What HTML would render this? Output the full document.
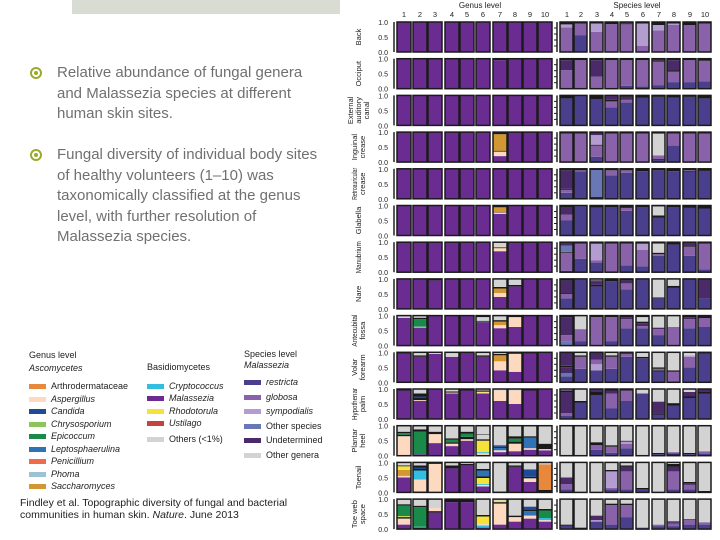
<!DOCTYPE html>
<html><head><meta charset="utf-8"><style>
body{margin:0;width:720px;height:540px;overflow:hidden;background:#fff;font-family:"Liberation Sans",sans-serif;position:relative}
.topbar{position:absolute;left:72px;top:0;width:268px;height:14px;background:#d9dcd3}
.bul{position:absolute;left:57px;font-size:15px;line-height:20.5px;color:#707070;width:270px}
.dot{position:absolute;left:-27px;top:4px;width:8px;height:8px;border:2px solid #9aab2c;border-radius:50%}
.dot:after{content:"";position:absolute;left:2px;top:2px;width:4px;height:4px;background:#9aab2c;border-radius:50%}
.leg{position:absolute;font-size:9px;color:#222;line-height:12.5px}
.leg .sw{display:inline-block;width:17px;height:5px;vertical-align:middle;margin-right:5px}
.cite{position:absolute;left:20px;top:497px;font-size:10.5px;color:#222;line-height:12px}
</style></head><body>
<div class="topbar"></div>
<div class="bul" style="top:63px"><span class="dot"></span>Relative abundance of fungal genera and Malassezia species at different human skin sites.</div>
<div class="bul" style="top:145px"><span class="dot"></span>Fungal diversity of individual body sites of healthy volunteers (1–10) was taxonomically classified at the genus level, with further resolution of Malassezia species.</div>

<div class="leg" style="left:29px;top:349px">
<div>Genus level</div><div style="font-style:italic;margin-bottom:6px">Ascomycetes</div>
<div><span class="sw" style="background:#e8883a"></span>Arthrodermataceae</div>
<div><span class="sw" style="background:#fdd9c0"></span><i>Aspergillus</i></div>
<div><span class="sw" style="background:#1e4a9a"></span><i>Candida</i></div>
<div><span class="sw" style="background:#8cc65a"></span><i>Chrysosporium</i></div>
<div><span class="sw" style="background:#1a8a4a"></span><i>Epicoccum</i></div>
<div><span class="sw" style="background:#2f72b5"></span><i>Leptosphaerulina</i></div>
<div><span class="sw" style="background:#ee6b4d"></span><i>Penicillium</i></div>
<div><span class="sw" style="background:#9cc2d8"></span><i>Phoma</i></div>
<div><span class="sw" style="background:#d29633"></span><i>Saccharomyces</i></div>
</div>
<div class="leg" style="left:147px;top:361px">
<div style="margin-bottom:6px">Basidiomycetes</div>
<div><span class="sw" style="background:#33bde0"></span><i>Cryptococcus</i></div>
<div><span class="sw" style="background:#6a2c91"></span><i>Malassezia</i></div>
<div><span class="sw" style="background:#f5e33a"></span><i>Rhodotorula</i></div>
<div><span class="sw" style="background:#c0453f"></span><i>Ustilago</i></div>
<div style="margin-top:3px"><span class="sw" style="background:#d3d3d3"></span>Others (&lt;1%)</div>
</div>
<div class="leg" style="left:244px;top:349px;line-height:14.5px">
<div style="line-height:11px">Species level</div><div style="font-style:italic;margin-bottom:4px;line-height:11px">Malassezia</div>
<div><span class="sw" style="background:#4a3f8c"></span><i>restricta</i></div>
<div><span class="sw" style="background:#8a62aa"></span><i>globosa</i></div>
<div><span class="sw" style="background:#b39ccf"></span><i>sympodialis</i></div>
<div><span class="sw" style="background:#6a77b5"></span>Other species</div>
<div><span class="sw" style="background:#4b2a6a"></span>Undetermined</div>
<div><span class="sw" style="background:#d3d3d3"></span>Other genera</div>
</div>
<div class="cite">Findley et al. Topographic diversity of fungal and bacterial<br>communities in human skin. <i>Nature</i>. June 2013</div>

<svg id="chart" width="720" height="540" style="position:absolute;left:0;top:0"></svg>
<script>
const sites=["Back","Occiput","External|auditory|canal","Inguinal|crease","Retroauricular|crease","Glabella","Manubrium","Nare","Antecubital|fossa","Volar|forearm","Hypothenar|palm","Plantar|heel","Toenail","Toe web|space"];
const volunteers=["1","2","3","4","5","6","7","8","9","10"];
const yTicks=[1.0,0.5,0.0];
const genusColors={M:"#6a2c91",O:"#d3d3d3",A:"#fdd9c0",E:"#1a8a4a",S:"#d29633",Y:"#f5e33a",C:"#33bde0",L:"#2f72b5",K:"#1e4a9a",R:"#e8883a",k:"#1a1a1a"};
const speciesColors={r:"#4a3f8c",g:"#8a62aa",s:"#b39ccf",o:"#6a77b5",u:"#4b2a6a",n:"#d3d3d3",k:"#1a1a1a"};
const G="M1";
const genusData=[
[G,G,G,G,G,G,G,G,G,G],
[G,G,G,G,G,G,"M.95 k.05",G,G,G],
[G,G,G,G,G,G,G,G,G,G],
[G,G,G,G,G,G,"M.2 A.15 k.03 S.55 k.07",G,G,G],
[G,G,G,G,G,G,G,G,G,G],
[G,G,G,G,G,G,"M.72 A.05 k.02 S.15 k.06",G,G,G],
[G,G,G,G,G,G,"M.7 A.1 k.03 Y.02 O.15",G,G,G],
[G,G,"M.95 k.05",G,G,G,"M.4 A.13 S.15 k.05 O.25 k.02","M.75 k.05 O.2",G,G],
["M.92 O.08","M.6 O.03 E.25 k.05 O.07",G,G,G,"M.78 k.02 E.03 O.12 k.05","M.58 A.1 S.12 k.05 O.15","M.62 A.33 k.05",G,G],
["M.95 k.05","M.85 k.05 O.1","M.95 A.03 k.02","M.85 O.15",G,"M.85 k.05 O.1","M.4 A.3 S.2 k.05 O.05","M.35 A.6 k.05","M.95 k.05",G],
["M.95 k.05","M.6 A.03 k.07 K.05 k.1 O.15",G,"M.85 A.03 k.04 O.08","M.95 k.05","M.85 A.03 Y.03 k.04 O.05","M.6 A.35 O.05","M.5 A.45 O.05","M.95 k.05",G],
["A.65 k.05 E.05 k.05 O.2","M.05 E.75 k.08 O.12","M.42 A.3 k.08 O.2","M.32 A.08 k.05 E.08 k.05 O.42","M.5 A.05 k.08 E.1 k.07 O.2","A.08 C.04 Y.38 k.05 O.15 k.02 O.28","M.12 A.06 L.08 k.04 K.05 O.65","M.15 A.25 k.07 E.1 k.08 O.35","M.2 A.05 L.35 k.05 O.35","M.18 A.04 k.18 O.6"],
["M.5 A.05 S.2 Y.12 k.03 O.1","M.03 A.4 C.3 k.05 K.05 k.07 O.1","A.95 k.05","M.8 k.1 O.1","M.9 k.05 O.05","M.2 A.05 C.03 Y.2 k.05 L.2 k.05 O.22","E.03 O.97","M.85 k.05 O.1","M.35 A.12 k.05 K.25 O.23","k.08 R.85 O.07"],
["M.15 A.2 k.05 Y.03 E.35 k.05 O.17","k.05 C.03 E.65 k.05 O.22","M.55 k.05 A.1 O.3","M.9 k.1","M.9 k.1","M.05 C.07 A.05 Y.25 k.05 O.5","M.15 A.7 k.05 Y.05 O.05","M.25 A.15 k.05 O.55","M.35 A.1 L.15 k.05 K.1 O.25","M.25 A.05 C.07 E.25 k.05 O.33"]
];
const speciesData=[
["g.82 s.1 k.08","r.55 g.4 k.05","g.67 s.28 k.05","g.93 k.07","g.92 u.05 k.03","g.2 s.75 k.05","g.72 s.18 k.1","g.9 s.05 k.05","g.9 k.1","g.95 k.05"],
["g.62 u.33 k.05","g.95 k.05","g.4 u.55 k.05","g.95 k.05","r.1 g.85 k.05","r.08 g.87 k.05","r.12 g.78 k.05 u.05","r.22 g.35 k.05 u.33 k.05","r.22 g.73 k.05","r.25 g.68 k.07"],
["r.9 k.1","r1","r.88 k.12","r.6 g.2 k.05 u.15","r.77 g.08 u.1 k.05","r.93 k.07","r.95 k.05","r.92 k.08","r.95 k.05","r.9 k.1"],
["g.95 k.05","r.03 g.92 k.05","r.18 g.37 k.03 s.32 u.05 k.05","g.95 k.05","r.03 g.92 k.05","r.03 g.92 k.05","r.07 k.03 g.12 n.73 k.05","r.55 g.4 k.05","g.95 k.05","r.03 g.92 k.05"],
["r.2 g.1 k.03 u.62 k.05","r.92 g.03 k.05","u.03 k.03 o.9 k.04","r.78 g.17 k.05","r.87 g.08 k.05","r.92 k.08","r.95 k.05","r.92 k.08","r.9 k.03 g.02 k.05","r.93 k.07"],
["r.5 g.2 u.25 k.05","r.98 k.02","r.93 k.07","r.95 k.05","r.82 g.1 k.08","r.95 k.05","r.6 k.07 n.3 k.03","r.95 k.05","r.92 k.08","r.9 k.1"],
["r.05 g.6 k.03 o.2 k.02 u.1","r.45 g.5 k.05","r.32 g.08 s.55 k.05","g.95 k.05","r.23 g.72 k.05","r.2 g.55 s.2 k.05","r.55 g.05 k.05 n.3 u.05","r.92 k.08","r.55 g.3 k.05 u.1","r.1 g.85 k.05"],
["r.35 g.15 k.03 u.42 k.05","r.97 k.03","r.75 k.05 u.12 k.03 s.05","r.92 k.08","r.65 g.2 u.1 k.05","r.97 k.03","r.35 k.03 n.6 k.02","r.7 k.07 n.23","r.98 k.02","r.35 u.65"],
["o.15 g.2 u.6 k.05","r.15 g.4 n.45","g.95 k.05","r.15 g.8 k.05","r.58 g.3 u.07 k.05","r.58 g.07 u.1 k.05 n.15 k.05","r.35 g.2 u.05 n.37 k.03","g.62 n.38","r.58 g.3 u.07 k.05","r.62 g.3 k.08"],
["r.2 o.1 u.2 k.05 u.4 k.05","r.45 g.4 k.05 n.1","r.4 s.2 g.15 u.2 k.05","r.45 g.4 k.05 n.1","r.85 g.1 k.05","r.8 k.05 n.15","r.35 k.05 g.05 k.05 n.5","g.35 k.05 n.6","r.5 g.35 s.05 n.1","r.95 k.05"],
["r.1 g.1 u.7 k.05 s.05","r.55 k.05 n.4","r.8 k.1 u.1","r.35 g.5 u.1 k.05","r.6 g.35 k.05","r.85 n.15","r.15 k.03 u.4 n.42","r.45 k.08 n.47","r.7 k.05 u.15 n.1","r.85 k.05 u.1"],
["n1","n1","r.2 g.15 k.1 n.55","r.1 g.2 k.05 n.65","r.25 g.15 s.07 k.03 n.5","n1","r.05 k.04 n.91","r.04 k.03 g.05 n.88","r.05 k.04 n.91","r.07 g.08 n.85"],
["r.1 g.18 u.22 n.5","n1","n1","r.1 g.05 s.55 k.05 n.25","r.1 g.6 u.15 k.05 n.1","r.1 k.05 n.85","n1","r.1 g.6 u.15 k.1 n.05","r.1 g.15 u.05 k.05 n.65","k.05 n.95"],
["r.12 k.03 n.85","k.05 n.95","r.25 s.05 u.15 n.55","r.15 g.65 k.05 n.15","r.4 g.4 k.05 n.15","r.05 n.95","r.1 g.05 n.85","r.1 g.08 u.05 k.03 n.74","r.15 g.15 k.03 n.67","r.15 g.08 n.77"]
];
const NS="http://www.w3.org/2000/svg",svg=document.getElementById("chart");
function mk(t,a,p){const e=document.createElementNS(NS,t);for(const k in a)e.setAttribute(k,a[k]);(p||svg).appendChild(e);return e;}
const rowTop=i=>22+i*36.7, barH=30;
const yScale=(i,v)=>rowTop(i)+barH*(1-v);
const gX=[397,413,428,445,460,476,493,508,523,538], sX=[560,574,590,605,620,636,652,667,683,698];
const colX=(grp,j)=>(grp===0?gX:sX)[j];
function parse(s){return s.split(" ").map(t=>[t[0],parseFloat(t.slice(1))]);}
let t=mk("text",{x:480,y:8,"font-size":8,"text-anchor":"middle",fill:"#222"});t.textContent="Genus level";


t=mk("text",{x:637,y:8,"font-size":8,"text-anchor":"middle",fill:"#222"});t.textContent="Species level";


[0,1].forEach(grp=>volunteers.forEach((v,j)=>{const e=mk("text",{x:colX(grp,j)+7,y:17,"font-size":7.5,"text-anchor":"middle",fill:"#222"});e.textContent=v;

}));
sites.forEach((site,i)=>{
  const y0=rowTop(i);
  const lab=mk("text",{transform:`translate(${358},${y0+barH/2}) rotate(-90)`,"font-size":7.5,"text-anchor":"middle",fill:"#222"});
  
  
  const parts=site.split("|");
  parts.forEach((p,k)=>{const ts=mk("tspan",{x:0,dy:k===0?(-(parts.length-1)*4+3):8},lab);ts.textContent=p;
    const L=ts.getComputedTextLength();
    if(L>32){ts.setAttribute("textLength",32);ts.setAttribute("lengthAdjust","spacingAndGlyphs");}
  });
  yTicks.forEach(v=>{const e=mk("text",{x:388,y:yScale(i,v)+3,"font-size":7,"text-anchor":"end",fill:"#222"});e.textContent=v.toFixed(1);
  
  });
  const ax=mk("line",{x1:394,x2:394,y1:y0,y2:y0+barH,stroke:"#222","stroke-width":1.5});
  
  
  const ax2=mk("line",{x1:557,x2:557,y1:y0,y2:y0+barH,stroke:"#222","stroke-width":1.5});
  
  
  [0.2,0.4,0.6,0.8].forEach(v=>{const tk=mk("line",{x1:554,x2:557,y1:yScale(i,v),y2:yScale(i,v),stroke:"#222"});
  
  });
  [[genusData,genusColors,0],[speciesData,speciesColors,1]].forEach(([data,cols,grp])=>{
    data[i].forEach((s,j)=>{
      const x=colX(grp,j),w=grp===0?14:13;
      const g=mk("g",{});
      
      
      let cum=0;
      parse(s).forEach(([c,f])=>{
        const yTop=yScale(i,Math.min(1,cum+f)),yBot=yScale(i,cum);
        const r=mk("rect",{x:x,y:yTop,width:w,height:Math.max(0,yBot-yTop),fill:cols[c]},g);
        
        
        cum+=f;
      });
      const b=mk("rect",{x:x,y:y0,width:w,height:barH,fill:"none",stroke:"#1a1a1a","stroke-width":1.5},g);
      
      
    });
  });
});
</script>
</body></html>
